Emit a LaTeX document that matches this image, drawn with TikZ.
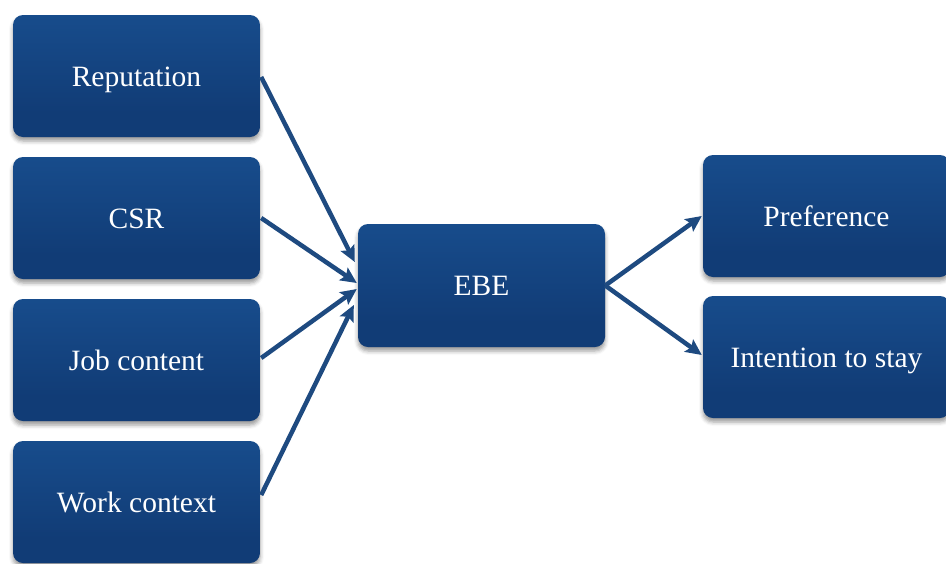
\documentclass[tikz,border=0pt]{standalone}
\usepackage{fontspec}
\setmainfont{Liberation Serif}
\usetikzlibrary{arrows.meta,calc,shadows.blur}

\definecolor{boxtop}{RGB}{25,80,145}
\definecolor{boxbot}{RGB}{17,60,118}
\definecolor{boxhi}{RGB}{75,125,190}
\definecolor{linkblue}{RGB}{30,74,128}

% vertical fill of the boxes, bottom to top, with a light rim along the top
\pgfdeclareverticalshading{boxshade}{100bp}{%
  color(0bp)=(boxbot); color(35bp)=(boxbot); color(85bp)=(boxtop);
  color(95bp)=(boxtop); color(99bp)=(boxhi); color(100bp)=(boxhi)}

\tikzset{
  factor/.style={
    rounded corners=10pt, shading=boxshade,
    minimum width=247pt, minimum height=122pt, inner sep=0pt,
    text height=20pt, text depth=0pt,
    text=white, font=\fontsize{29.5}{32}\selectfont,
    blur shadow={shadow xshift=0pt, shadow yshift=-4pt,
                 shadow blur radius=4pt, shadow opacity=40}},
  link/.style={draw=linkblue, line width=4.5pt,
    -{Stealth[length=16pt,width=15pt,inset=3pt]}}
}

\begin{document}
\begin{tikzpicture}[x=1pt,y=-1pt]
  \useasboundingbox (0,0) rectangle (946,563);
  \clip (0,0) rectangle (946,563);

  % antecedents
  \node[factor] (rep)  at (136.5,76)  {Reputation};
  \node[factor] (csr)  at (136.5,218) {CSR};
  \node[factor] (job)  at (136.5,360) {Job content};
  \node[factor] (work) at (136.5,502) {Work context};

  % central construct
  \node[factor, minimum height=123pt] (ebe) at (481.5,285.5) {EBE};

  % outcomes
  \node[factor] (pref) at (826.5,216) {Preference};
  \node[factor] (stay) at (826.5,357) {Intention to stay};

  % arrow targets on the left side of EBE
  \coordinate (tRep)  at ($(ebe.west)+(-3,-23.5)$);
  \coordinate (tCsr)  at ($(ebe.west)+(-1,-2.5)$);
  \coordinate (tJob)  at ($(ebe.west)+(-1,3.5)$);
  \coordinate (tWork) at ($(ebe.west)+(-4,19.5)$);

  \draw[link] ($(rep.east)+(1,1)$)   -- (tRep);
  \draw[link] ($(csr.east)+(1,0)$)   -- (tCsr);
  \draw[link] ($(job.east)+(1,-2)$)  -- (tJob);
  \draw[link] ($(work.east)+(1,-7)$) -- (tWork);

  \draw[link] (ebe.east) -- ($(pref.west)+(-1,0)$);
  \draw[link] (ebe.east) -- ($(stay.west)+(-1,-2)$);
\end{tikzpicture}
\end{document}
